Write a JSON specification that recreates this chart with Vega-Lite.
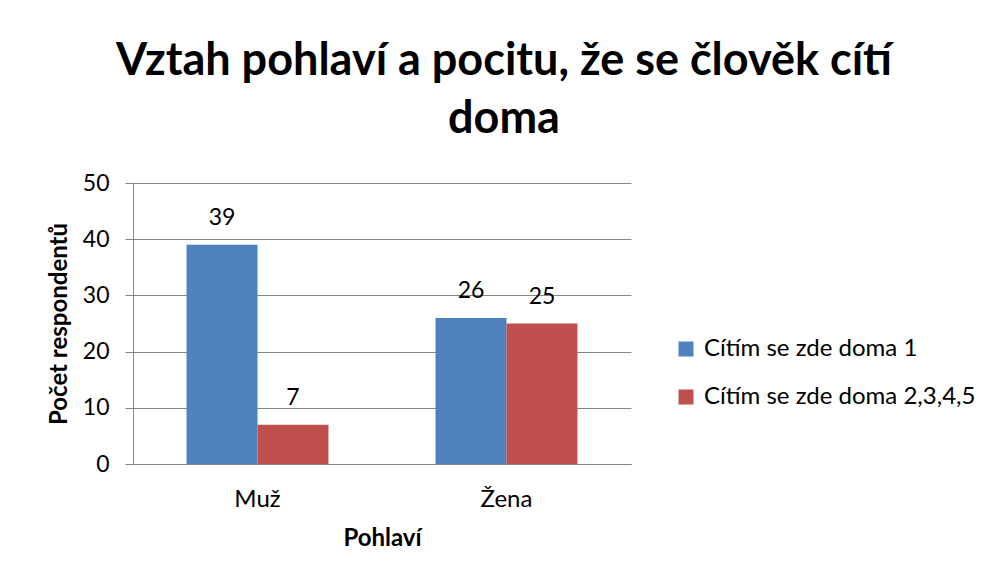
{
  "$schema": "https://vega.github.io/schema/vega-lite/v6.json",
  "width": 498,
  "height": 281,
  "autosize": {"type": "none"},
  "padding": {"left": 133, "top": 183, "right": 354, "bottom": 115},
  "background": "white",
  "title": {
    "text": ["Vztah pohlaví a pocitu, že se člověk cítí", "doma"],
    "font": "Lato",
    "fontSize": 45,
    "fontWeight": "bold",
    "color": "black",
    "lineHeight": 58,
    "anchor": "middle",
    "dx": 122,
    "offset": 30
  },
  "data": {
    "values": [
      {"pohlavi": "Muž", "odpoved": "Cítím se zde doma 1", "pocet": 39},
      {"pohlavi": "Muž", "odpoved": "Cítím se zde doma 2,3,4,5", "pocet": 7},
      {"pohlavi": "Žena", "odpoved": "Cítím se zde doma 1", "pocet": 26},
      {"pohlavi": "Žena", "odpoved": "Cítím se zde doma 2,3,4,5", "pocet": 25}
    ]
  },
  "encoding": {
    "x": {
      "field": "pohlavi",
      "type": "nominal",
      "sort": null,
      "title": "Pohlaví",
      "scale": {"paddingInner": 0.43, "paddingOuter": 0.215},
      "axis": {
        "labelAngle": 0,
        "ticks": false,
        "domainColor": "#868686",
        "labelFont": "Lato",
        "labelFontSize": 24,
        "labelColor": "black",
        "labelPadding": 23,
        "titleFont": "Lato",
        "titleFontSize": 24,
        "titleFontWeight": "bold",
        "titleColor": "black",
        "titlePadding": 15
      }
    },
    "xOffset": {"field": "odpoved", "type": "nominal", "sort": null, "scale": {"paddingInner": 0, "paddingOuter": 0}},
    "y": {
      "field": "pocet",
      "type": "quantitative",
      "title": "Počet respondentů",
      "scale": {"domain": [0, 50]},
      "axis": {
        "values": [0, 10, 20, 30, 40, 50],
        "tickSize": 8,
        "tickColor": "#868686",
        "domainColor": "#868686",
        "gridColor": "#868686",
        "gridOpacity": 1,
        "labelFont": "Lato",
        "labelFontSize": 23,
        "labelColor": "black",
        "labelPadding": 16,
        "titleFont": "Lato",
        "titleFontSize": 24,
        "titleFontWeight": "bold",
        "titleColor": "black",
        "titlePadding": 11
      }
    }
  },
  "layer": [
    {
      "mark": {"type": "bar"},
      "encoding": {
        "color": {
          "field": "odpoved",
          "type": "nominal",
          "sort": null,
          "scale": {"range": ["#4F81BD", "#C0504D"]},
          "legend": {
            "orient": "none",
            "legendX": 541,
            "legendY": 154,
            "title": null,
            "symbolType": "square",
            "symbolSize": 225,
            "symbolStrokeWidth": 0,
            "labelFont": "Lato",
            "labelFontSize": 24,
            "labelColor": "black",
            "labelLimit": 400,
            "labelOffset": 6,
            "rowPadding": 24
          }
        }
      }
    },
    {
      "mark": {"type": "text", "dy": -20, "baseline": "alphabetic", "font": "Lato", "fontSize": 23, "color": "black"},
      "encoding": {"text": {"field": "pocet", "type": "quantitative"}}
    }
  ],
  "config": {"view": {"stroke": null}}
}
